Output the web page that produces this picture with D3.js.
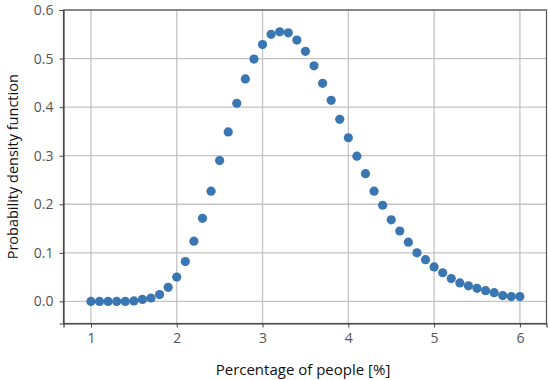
<!DOCTYPE html>
<html><head><meta charset="utf-8">
<script src="https://cdn.jsdelivr.net/npm/d3@7"></script>
<style>body{margin:0;background:#fff}</style>
</head><body>
<svg id="c" width="550" height="380"></svg>
<script>
const xValues = [1.0,1.1,1.2,1.3,1.4,1.5,1.6,1.7,1.8,1.9,2.0,2.1,2.2,2.3,2.4,2.5,2.6,2.7,2.8,2.9,3.0,3.1,3.2,3.3,3.4,3.5,3.6,3.7,3.8,3.9,4.0,4.1,4.2,4.3,4.4,4.5,4.6,4.7,4.8,4.9,5.0,5.1,5.2,5.3,5.4,5.5,5.6,5.7,5.8,5.9,6.0];
const pdfValues = [0,0,0,0,0,0.001,0.004,0.007,0.014,0.029,0.05,0.082,0.124,0.171,0.227,0.29,0.349,0.408,0.458,0.499,0.529,0.55,0.555,0.553,0.538,0.515,0.485,0.449,0.414,0.375,0.337,0.299,0.263,0.227,0.198,0.168,0.145,0.122,0.1,0.086,0.071,0.059,0.047,0.038,0.032,0.027,0.022,0.018,0.012,0.01,0.01];
const xTicks = [1,2,3,4,5,6];
const yTicks = [0,0.1,0.2,0.3,0.4,0.5,0.6];

const L=63.5, R=546.5, T=10, B=323.5;
const x = d3.scaleLinear().domain([0.68,6.31]).range([L,R]);
const y = d3.scaleLinear().domain([-0.0455,0.6]).range([B,T]);
const svg = d3.select("#c");
const font = "'Open Sans', 'DejaVu Sans', sans-serif";

// grid
svg.append("g").selectAll("line").data(xTicks).join("line")
  .attr("x1",d=>x(d)).attr("x2",d=>x(d)).attr("y1",T).attr("y2",B)
  .attr("stroke","#c4c4c4").attr("stroke-width",1.3);
svg.append("g").selectAll("line").data(yTicks).join("line")
  .attr("x1",L).attr("x2",R).attr("y1",d=>y(d)).attr("y2",d=>y(d))
  .attr("stroke","#c4c4c4").attr("stroke-width",1.3);

// frame
svg.append("rect").attr("x",L).attr("y",T).attr("width",R-L).attr("height",B-T)
  .attr("fill","none").attr("stroke","#555").attr("stroke-width",1.2);

// axes
const xAxis = svg.append("g").attr("transform",`translate(0,${B})`)
  .call(d3.axisBottom(x).tickValues(xTicks).tickFormat(d3.format("d")).tickSize(4).tickPadding(6));
const yAxis = svg.append("g").attr("transform",`translate(${L},0)`)
  .call(d3.axisLeft(y).tickValues(yTicks).tickFormat(d3.format(".1f")).tickSize(4).tickPadding(6));
[xAxis,yAxis].forEach(g=>{
  g.select(".domain").attr("stroke","#444").attr("stroke-width",1.2);
  g.selectAll(".tick line").attr("stroke","#444");
  g.selectAll(".tick text").attr("font-family",font).attr("font-size",14).attr("fill","#555");
});

// points
svg.append("g").selectAll("circle").data(xValues).join("circle")
  .attr("cx",d=>x(d)).attr("cy",(d,i)=>y(pdfValues[i])).attr("r",4.6)
  .attr("fill","#2f6fad").attr("fill-opacity",0.95);

// labels
svg.append("text").attr("x",(L+R)/2-2).attr("y",375).attr("text-anchor","middle")
  .attr("font-family",font).attr("font-size",15).attr("fill","#111").text("Percentage of people [%]");
svg.append("text").attr("transform",`translate(18,${(T+B)/2}) rotate(-90)`).attr("text-anchor","middle")
  .attr("font-family",font).attr("font-size",14.5).attr("fill","#111").text("Probability density function");
</script>
</body></html>
